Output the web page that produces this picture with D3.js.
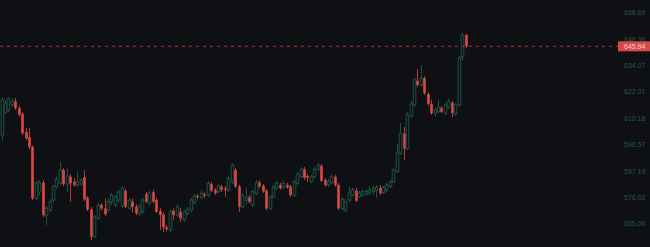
<!DOCTYPE html>
<html>
<head>
<meta charset="utf-8">
<script src="https://cdn.jsdelivr.net/npm/d3@7"></script>
<style>
	html, body { margin: 0; padding: 0; background: #0e1013; overflow: hidden; }
	svg { display: block; }
</style>
</head>
<body>
<script>
// candles, oldest first: open / high / low / close
var opens = [605.5,615.7,616.7,619.0,620.5,617.6,614.9,606.9,604.6,600.3,578.2,580.9,584.9,571.2,573.3,577.5,583.1,584.6,590.3,584.3,
	587.4,585.3,583.9,584.3,587.2,578.5,573.6,562.3,569.8,575.4,574.0,573.3,576.8,575.4,577.5,575.0,581.4,574.1,576.8,574.7,
	572.0,572.6,580.1,576.2,580.8,577.5,573.0,571.5,566.1,565.1,573.0,571.2,572.6,569.2,571.9,573.3,576.4,579.2,578.7,579.9,
	579.6,584.3,581.8,581.1,583.2,582.5,581.8,585.2,590.3,583.2,574.7,577.5,578.7,575.4,580.4,584.9,583.5,581.5,574.0,578.9,
	582.5,583.9,582.9,583.9,583.2,579.6,584.6,587.4,590.6,587.7,585.3,587.4,590.6,592.0,586.0,583.9,584.9,587.4,583.9,574.0,
	573.3,577.5,579.6,581.5,578.9,579.6,580.1,580.4,581.1,581.8,582.5,580.6,581.8,583.2,585.3,589.6,597.4,606.2,599.6,614.0,
	619.0,629.9,628.0,631.1,623.9,619.4,615.2,615.9,617.5,615.2,617.9,620.0,614.9,619.0,641.1,651.3];
var highs = [622.5,621.2,622.5,622.1,622.1,618.5,615.7,608.6,608.6,601.0,585.6,586.0,586.0,575.0,578.0,583.9,587.3,593.8,591.1,591.1,
	588.6,586.8,589.5,586.8,590.3,579.2,574.6,571.2,576.2,576.2,578.2,578.0,580.5,579.6,581.8,583.5,582.2,578.4,578.0,575.8,
	575.8,578.4,580.9,581.4,581.8,578.4,574.1,572.4,567.1,573.7,574.1,575.8,574.1,573.3,574.6,578.4,580.1,580.1,581.4,580.9,
	585.6,585.2,582.6,584.3,583.9,583.5,587.7,593.3,591.1,583.9,580.5,582.6,579.6,581.8,586.0,586.0,584.3,582.2,579.6,583.9,
	585.6,584.8,585.6,584.8,583.9,586.0,589.5,591.6,591.6,588.6,588.1,591.6,593.3,592.9,586.8,586.4,588.6,588.1,584.8,578.8,
	578.0,583.1,582.6,582.6,581.4,581.8,581.8,583.5,583.5,583.9,583.9,583.5,584.8,586.0,591.1,601.9,610.9,609.1,615.7,620.8,
	631.2,635.2,637.2,632.1,624.8,621.2,617.6,621.2,618.5,619.8,621.7,620.8,619.8,641.4,652.2,651.8];
var lows = [603.3,614.9,615.7,618.1,616.7,613.6,605.5,603.3,599.3,577.5,577.5,579.6,570.4,567.1,572.4,576.6,582.2,583.9,583.5,580.9,
	576.8,583.1,583.1,583.5,577.1,572.9,560.9,561.8,569.2,573.3,570.8,572.4,575.4,574.6,576.6,574.1,574.1,573.3,572.4,571.2,
	570.8,571.6,576.2,575.4,576.2,572.0,565.1,564.2,564.4,564.2,569.2,570.4,568.4,568.4,571.2,572.4,575.8,577.9,577.9,578.4,
	578.8,580.9,579.6,580.5,580.9,578.8,580.9,584.3,582.6,572.6,574.1,575.4,576.2,574.6,579.6,582.6,580.5,573.3,573.3,578.4,
	581.8,581.8,582.2,582.2,578.8,578.8,583.9,586.8,586.0,585.2,584.8,586.8,589.8,585.2,583.1,583.1,584.3,583.1,573.3,573.3,
	572.4,576.6,578.8,576.6,578.4,578.8,579.2,579.6,580.1,578.4,579.6,580.1,580.9,582.6,584.8,589.1,596.7,594.6,598.9,613.2,
	618.1,627.1,627.1,623.5,618.5,614.5,613.6,615.3,615.3,614.5,617.1,613.6,614.0,618.1,639.5,645.1];
var closes = [621.2,619.8,621.7,620.8,617.5,614.5,606.3,604.0,600.2,578.2,584.8,584.9,571.2,574.1,576.8,583.2,586.4,590.3,584.3,587.7,
	584.6,583.9,585.3,586.0,577.8,573.6,562.3,570.5,575.4,574.0,571.6,576.8,579.6,578.8,580.9,582.6,574.7,577.5,574.7,572.0,
	574.7,577.5,576.8,580.4,576.8,572.6,571.2,566.1,565.3,572.6,571.2,574.7,569.8,572.6,573.6,577.5,579.2,578.7,580.4,579.4,
	584.6,581.5,580.4,583.5,581.8,581.8,586.7,592.4,583.2,574.7,579.6,578.7,576.8,581.1,584.9,583.2,581.1,574.0,578.9,582.9,
	584.6,582.5,584.6,582.9,579.6,585.3,588.5,590.6,587.0,587.0,587.4,590.6,592.4,585.7,583.9,585.3,587.4,583.9,574.0,577.8,
	576.8,580.6,581.8,577.2,580.4,581.1,581.1,581.8,582.5,582.9,580.4,582.9,583.9,585.3,590.3,597.6,606.2,599.6,614.5,619.4,
	630.3,628.0,631.1,624.2,619.4,615.2,616.7,617.9,615.9,619.0,620.5,615.2,619.0,640.4,651.3,645.94];

// right axis labels
var tickValues = [565.06, 576.02, 587.19, 598.57, 610.18, 622.01, 634.07, 646.36, 658.89];

var width = 650, height = 247;
var plotRight = 612;
var green = "#1f5244", red = "#de4747", redWick = "#b53a3a";

var data = opens.map(function (o, i) {
	return {i: i, open: o, high: highs[i], low: lows[i], close: closes[i]};
});

var x = d3.scaleLinear().domain([0, data.length - 1]).range([1.5, 465.5]);
var y = d3.scaleLog().domain([558.1, 668.1]).range([height, 0]);

var svg = d3.select("body").append("svg")
	.attr("width", width)
	.attr("height", height)
	.style("font-family", "'Liberation Sans', Arial, sans-serif");

svg.append("rect")
	.attr("width", width)
	.attr("height", height)
	.attr("fill", "#0e1013");

var candles = svg.append("g")
	.selectAll("g")
	.data(data)
	.enter().append("g");

candles.append("line")
	.attr("x1", function (d) { return Math.round(x(d.i)) + 0.5; })
	.attr("x2", function (d) { return Math.round(x(d.i)) + 0.5; })
	.attr("y1", function (d) { return y(d.high); })
	.attr("y2", function (d) { return y(d.low); })
	.attr("stroke", function (d) { return d.close >= d.open ? green : redWick; })
	.attr("stroke-width", 1);

candles.append("rect")
	.attr("x", function (d) { return Math.round(x(d.i)) - 0.8; })
	.attr("width", 2.6)
	.attr("y", function (d) { return y(Math.max(d.open, d.close)); })
	.attr("height", function (d) { return Math.max(1, Math.abs(y(d.open) - y(d.close))); })
	.attr("fill", function (d) { return d.close >= d.open ? "#0e1013" : red; })
	.attr("stroke", function (d) { return d.close >= d.open ? green : "none"; })
	.attr("stroke-width", 1);

// right price axis
var axis = svg.append("g")
	.attr("transform", "translate(" + plotRight + ",0)")
	.call(d3.axisRight(y)
		.tickValues(tickValues)
		.tickSize(0)
		.tickPadding(12)
		.tickFormat(d3.format(".2f")));

axis.select(".domain").remove();
axis.selectAll("text")
	.attr("fill", "#27574a")
	.attr("font-size", "7px")
	.attr("dy", "-6.7")
	.attr("dominant-baseline", "central");

// last price line and label
var last = data[data.length - 1].close;

svg.append("line")
	.attr("x1", 0)
	.attr("x2", 618)
	.attr("y1", y(last))
	.attr("y2", y(last))
	.attr("stroke", "#a83434")
	.attr("stroke-width", 1)
	.attr("stroke-dasharray", "3,4");

svg.append("rect")
	.attr("x", 618)
	.attr("y", y(last) - 5)
	.attr("width", 34)
	.attr("height", 10)
	.attr("fill", "#d84a4a");

svg.append("text")
	.attr("x", 624)
	.attr("y", y(last))
	.attr("dominant-baseline", "central")
	.attr("font-size", "7px")
	.attr("fill", "#f6d0d0")
	.text(d3.format(".2f")(last));
</script>
</body>
</html>
